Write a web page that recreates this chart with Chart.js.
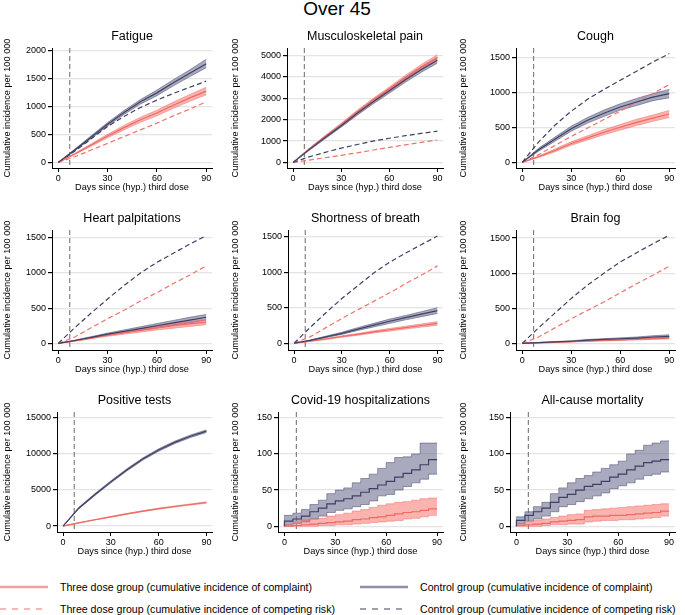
<!DOCTYPE html>
<html>
<head>
<meta charset="utf-8">
<script src="https://cdn.jsdelivr.net/npm/chart.js"></script>
<style>
  body { margin: 0; background: #fff; font-family: "Liberation Sans", Arial, sans-serif; }
  #page { position: relative; width: 685px; height: 615px; overflow: hidden; background: #fff; }
  #mainTitle { position: absolute; left: 0; top: -2px; width: 674px; text-align: center; font-size: 19px; line-height: 22px; color: #000; }
  .panel { position: absolute; }
  .leg { position: absolute; font-size: 10.6px; line-height: 14px; color: #000; white-space: nowrap; }
  .legLine { position: absolute; }
</style>
</head>
<body>
<div id="page">
  <div id="mainTitle">Over 45</div>
</div>
<script>
// --- data ---
const days = [0, 10, 20, 30, 40, 50, 60, 70, 80, 90];
const days5 = [0, 5, 10, 15, 20, 25, 30, 35, 40, 45, 50, 55, 60, 65, 70, 75, 80, 85, 90];
const refDay = 7;
const xTicks = [0, 30, 60, 90];

// Fatigue
const fatT   = [0, 150, 310, 470, 620, 760, 880, 1020, 1150, 1270];
const fatTlo = [0, 140, 290, 440, 580, 715, 830, 965, 1090, 1205];
const fatThi = [0, 160, 330, 500, 660, 805, 930, 1075, 1210, 1340];
const fatC   = [0, 220, 450, 680, 890, 1080, 1240, 1420, 1590, 1760];
const fatClo = [0, 205, 425, 650, 855, 1040, 1190, 1365, 1530, 1690];
const fatChi = [0, 235, 475, 710, 925, 1120, 1290, 1475, 1650, 1840];
const fatTc  = [0, 100, 220, 340, 460, 580, 700, 830, 950, 1080];
const fatCc  = [0, 200, 420, 640, 820, 980, 1110, 1230, 1340, 1450];
const fatTicks = [0, 500, 1000, 1500, 2000];

// Musculoskeletal pain
const musT   = [0, 620, 1200, 1760, 2350, 2900, 3420, 3950, 4450, 4900];
const musTlo = [0, 580, 1140, 1690, 2260, 2800, 3310, 3830, 4320, 4760];
const musThi = [0, 660, 1260, 1830, 2440, 3000, 3530, 4070, 4580, 5040];
const musC   = [0, 600, 1170, 1720, 2300, 2840, 3350, 3870, 4350, 4780];
const musClo = [0, 560, 1110, 1650, 2210, 2740, 3240, 3750, 4220, 4640];
const musChi = [0, 640, 1230, 1790, 2390, 2940, 3460, 3990, 4480, 4920];
const musTc  = [0, 110, 220, 330, 450, 580, 700, 820, 940, 1050];
const musCc  = [0, 260, 470, 670, 840, 1000, 1130, 1250, 1360, 1460];
const musTicks = [0, 1000, 2000, 3000, 4000, 5000];

// Cough
const couT   = [0, 80, 170, 270, 350, 430, 500, 570, 630, 690];
const couTlo = [0, 70, 150, 245, 320, 395, 460, 525, 585, 640];
const couThi = [0, 90, 190, 295, 380, 465, 540, 615, 675, 740];
const couC   = [0, 180, 330, 480, 600, 700, 790, 860, 930, 980];
const couClo = [0, 160, 300, 445, 560, 655, 745, 810, 880, 920];
const couChi = [0, 200, 360, 515, 640, 745, 835, 910, 980, 1040];
const couTc  = [0, 110, 240, 370, 490, 610, 730, 860, 980, 1110];
const couCc  = [0, 290, 530, 730, 900, 1040, 1170, 1300, 1430, 1550];
const couTicks = [0, 500, 1000, 1500];

// Heart palpitations
const hrtT   = [0, 35, 75, 115, 150, 185, 220, 250, 275, 300];
const hrtTlo = [0, 30, 65, 100, 130, 160, 190, 215, 240, 265];
const hrtThi = [0, 40, 85, 130, 170, 210, 250, 285, 310, 335];
const hrtC   = [0, 40, 85, 130, 170, 210, 250, 290, 330, 370];
const hrtClo = [0, 35, 75, 115, 150, 185, 220, 255, 290, 330];
const hrtChi = [0, 45, 95, 145, 190, 235, 280, 325, 370, 410];
const hrtTc  = [0, 90, 220, 350, 470, 600, 720, 850, 970, 1100];
const hrtCc  = [0, 220, 430, 630, 820, 1000, 1150, 1280, 1410, 1530];
const hrtTicks = [0, 500, 1000, 1500];

// Shortness of breath
const sobT   = [0, 30, 60, 95, 125, 160, 190, 220, 250, 280];
const sobTlo = [0, 25, 52, 85, 112, 145, 172, 200, 228, 255];
const sobThi = [0, 35, 68, 105, 138, 175, 208, 240, 272, 305];
const sobC   = [0, 40, 90, 140, 200, 255, 310, 360, 410, 460];
const sobClo = [0, 35, 80, 125, 180, 230, 280, 330, 375, 420];
const sobChi = [0, 45, 100, 155, 220, 280, 340, 390, 445, 500];
const sobTc  = [0, 90, 220, 350, 470, 590, 710, 840, 960, 1090];
const sobCc  = [0, 220, 430, 630, 810, 990, 1140, 1270, 1390, 1510];
const sobTicks = [0, 500, 1000, 1500];

// Brain fog
const bfT   = [0, 8, 15, 25, 33, 42, 50, 58, 67, 75];
const bfTlo = [0, 5, 11, 19, 26, 34, 41, 48, 56, 63];
const bfThi = [0, 11, 19, 31, 40, 50, 59, 68, 78, 88];
const bfC   = [0, 10, 20, 30, 45, 55, 65, 75, 90, 100];
const bfClo = [0, 7, 15, 23, 35, 44, 52, 60, 72, 80];
const bfChi = [0, 13, 25, 37, 55, 67, 78, 90, 108, 122];
const bfTc  = [0, 90, 220, 350, 470, 590, 720, 850, 970, 1100];
const bfCc  = [0, 220, 430, 640, 830, 1000, 1160, 1290, 1420, 1540];
const bfTicks = [0, 500, 1000, 1500];

// Positive tests
const posT   = [0, 450, 870, 1280, 1680, 2050, 2400, 2700, 2980, 3250];
const posTlo = [0, 420, 830, 1230, 1620, 1985, 2330, 2625, 2900, 3160];
const posThi = [0, 480, 910, 1330, 1740, 2115, 2470, 2775, 3060, 3340];
const posC   = [0, 2500, 4350, 6100, 7750, 9250, 10500, 11550, 12400, 13100];
const posClo = [0, 2400, 4220, 5960, 7600, 9100, 10340, 11380, 12230, 12920];
const posChi = [0, 2600, 4480, 6240, 7900, 9400, 10660, 11720, 12570, 13280];
const posTicks = [0, 5000, 10000, 15000];

// Covid-19 hospitalizations (5-day steps)
const hosT   = [0, 0, 1, 2, 3, 4, 5, 6, 7, 9, 10, 12, 13, 15, 17, 19, 20, 22, 24];
const hosTlo = [0, 0, 0, 0, 0, 1, 1, 2, 2, 3, 4, 5, 6, 7, 8, 10, 11, 13, 15];
const hosThi = [0, 2, 5, 9, 10, 11, 14, 16, 18, 21, 23, 26, 29, 31, 33, 34, 36, 38, 39];
const hosC   = [0, 7, 10, 14, 20, 25, 31, 35, 38, 42, 47, 52, 57, 62, 68, 73, 78, 85, 92];
const hosClo = [0, 2, 4, 6, 10, 14, 19, 22, 24, 27, 30, 35, 42, 44, 50, 55, 60, 65, 72];
const hosChi = [0, 15, 18, 23, 30, 36, 45, 50, 53, 60, 66, 72, 80, 88, 95, 96, 100, 115, 115];
const hosTicks = [0, 50, 100, 150];

// All-cause mortality (5-day steps)
const morT   = [0, 1, 2, 3, 4, 6, 7, 8, 9, 13, 14, 14, 15, 15, 16, 17, 18, 19, 21];
const morTlo = [0, 0, 0, 0, 1, 2, 2, 3, 3, 6, 7, 8, 8, 9, 9, 10, 11, 12, 14];
const morThi = [0, 4, 6, 8, 10, 12, 14, 16, 17, 22, 23, 24, 25, 26, 27, 28, 29, 30, 31];
const morC   = [0, 8, 15, 20, 25, 33, 40, 44, 50, 55, 58, 62, 68, 72, 78, 83, 88, 90, 92];
const morClo = [0, 3, 7, 10, 14, 20, 27, 30, 34, 38, 42, 46, 52, 56, 60, 65, 70, 72, 75];
const morChi = [0, 13, 20, 27, 33, 45, 53, 60, 66, 70, 75, 80, 85, 90, 100, 105, 112, 115, 118];
const morTicks = [0, 50, 100, 150];

// --- panel layout ---
const colLeft = [0, 228, 456];
const colWidth = [228, 228, 229];
const colPadR = [16, 13, 10];
const rowTop = [29, 211, 393];
const panelH = 165;
const yAxisW = [52, 59, 60, 52, 60, 60, 57, 50, 54];

const panels = [
  { title: 'Fatigue', x: days, t: [fatT, fatTlo, fatThi], c: [fatC, fatClo, fatChi], tc: fatTc, cc: fatCc, ticks: fatTicks, ymin: -100, ymax: 2040 },
  { title: 'Musculoskeletal pain', x: days, t: [musT, musTlo, musThi], c: [musC, musClo, musChi], tc: musTc, cc: musCc, ticks: musTicks, ymin: -260, ymax: 5350 },
  { title: 'Cough', x: days, t: [couT, couTlo, couThi], c: [couC, couClo, couChi], tc: couTc, cc: couCc, ticks: couTicks, ymin: -80, ymax: 1630 },
  { title: 'Heart palpitations', x: days, t: [hrtT, hrtTlo, hrtThi], c: [hrtC, hrtClo, hrtChi], tc: hrtTc, cc: hrtCc, ticks: hrtTicks, ymin: -95, ymax: 1610 },
  { title: 'Shortness of breath', x: days, t: [sobT, sobTlo, sobThi], c: [sobC, sobClo, sobChi], tc: sobTc, cc: sobCc, ticks: sobTicks, ymin: -95, ymax: 1595 },
  { title: 'Brain fog', x: days, t: [bfT, bfTlo, bfThi], c: [bfC, bfClo, bfChi], tc: bfTc, cc: bfCc, ticks: bfTicks, ymin: -95, ymax: 1615 },
  { title: 'Positive tests', x: days, t: [posT, posTlo, posThi], c: [posC, posClo, posChi], ticks: posTicks, ymin: -820, ymax: 15750 },
  { title: 'Covid-19 hospitalizations', x: days5, t: [hosT, hosTlo, hosThi], c: [hosC, hosClo, hosChi], ticks: hosTicks, ymin: -8, ymax: 158, stepped: true },
  { title: 'All-cause mortality', x: days5, t: [morT, morTlo, morThi], c: [morC, morClo, morChi], ticks: morTicks, ymin: -8, ymax: 158, stepped: true }
];

const FONT = '"Liberation Sans", Arial, sans-serif';
const PINK = '#ee6b64', PINK_BAND = 'rgba(247,103,97,0.5)', PINK_EDGE = 'rgba(240,110,105,0.75)';
const NAVY = '#3e4067', NAVY_BAND = 'rgba(99,100,135,0.55)', NAVY_EDGE = 'rgba(70,72,110,0.75)';

Chart.defaults.font.family = FONT;
Chart.defaults.color = '#000';

const refLine = {
  id: 'refLine',
  beforeDatasetsDraw(chart) {
    const { ctx, chartArea, scales } = chart;
    const px = scales.x.getPixelForValue(refDay);
    ctx.save();
    ctx.strokeStyle = '#6a6a6a';
    ctx.lineWidth = 1;
    ctx.setLineDash([5, 3]);
    ctx.beginPath();
    ctx.moveTo(px, chartArea.top);
    ctx.lineTo(px, chartArea.bottom);
    ctx.stroke();
    ctx.restore();
  }
};

function pts(xs, ys) { return xs.map((d, i) => ({ x: d, y: ys[i] })); }

const page = document.getElementById('page');

panels.forEach((p, i) => {
  const col = i % 3, row = Math.floor(i / 3);
  const div = document.createElement('div');
  div.className = 'panel';
  div.style.left = colLeft[col] + 'px';
  div.style.top = rowTop[row] + 'px';
  div.style.width = colWidth[col] + 'px';
  div.style.height = panelH + 'px';
  const cv = document.createElement('canvas');
  div.appendChild(cv);
  page.appendChild(div);

  const step = p.stepped ? 'after' : false;
  const ds = [];
  // estimate lines on top
  ds.push({ data: pts(p.x, p.c[0]), borderColor: NAVY, borderWidth: 1.2, order: 1, stepped: step });
  ds.push({ data: pts(p.x, p.t[0]), borderColor: PINK, borderWidth: 1.2, order: 1, stepped: step });
  // bands
  const baseC = ds.length;
  ds.push({ data: pts(p.x, p.c[1]), borderColor: NAVY_EDGE, borderWidth: 0.7, order: 6, stepped: step });
  ds.push({ data: pts(p.x, p.c[2]), borderColor: NAVY_EDGE, borderWidth: 0.7, order: 6, stepped: step, fill: { target: baseC }, backgroundColor: NAVY_BAND });
  const baseT = ds.length;
  ds.push({ data: pts(p.x, p.t[1]), borderColor: PINK_EDGE, borderWidth: 0.7, order: 5, stepped: step });
  ds.push({ data: pts(p.x, p.t[2]), borderColor: PINK_EDGE, borderWidth: 0.7, order: 5, stepped: step, fill: { target: baseT }, backgroundColor: PINK_BAND });
  // competing risk
  if (p.cc) ds.push({ data: pts(p.x, p.cc), borderColor: NAVY, borderWidth: 1.2, borderDash: [5, 3], order: 2 });
  if (p.tc) ds.push({ data: pts(p.x, p.tc), borderColor: '#f0726a', borderWidth: 1.2, borderDash: [5, 3], order: 2 });

  new Chart(cv, {
    type: 'line',
    data: { datasets: ds },
    plugins: [refLine],
    options: {
      responsive: true,
      maintainAspectRatio: false,
      animation: false,
      devicePixelRatio: 1,
      elements: { point: { radius: 0 }, line: { tension: 0, fill: false } },
      layout: { padding: { top: 0, left: 0, bottom: 0, right: colPadR[col] } },
      plugins: {
        legend: { display: false },
        tooltip: { enabled: false },
        title: {
          display: true, text: p.title, fullSize: false, color: '#000',
          font: { size: 12.5, weight: 'normal', family: FONT },
          padding: { top: 0, bottom: 4 }
        }
      },
      scales: {
        x: {
          type: 'linear', min: -3.8, max: 93.5,
          afterBuildTicks: s => { s.ticks = xTicks.map(v => ({ value: v })); },
          afterFit: s => { s.height = 26; },
          grid: { drawOnChartArea: false, tickLength: 4, tickColor: '#000' },
          border: { color: '#000', width: 1 },
          ticks: { color: '#000', font: { size: 9, family: FONT }, padding: 1, maxRotation: 0, autoSkip: false, callback: v => String(v) },
          title: { display: true, text: 'Days since (hyp.) third dose', color: '#000', font: { size: 9.2, family: FONT }, padding: { top: 0, bottom: 1 } }
        },
        y: {
          type: 'linear', min: p.ymin, max: p.ymax,
          afterBuildTicks: s => { s.ticks = p.ticks.map(v => ({ value: v })); },
          afterFit: s => { s.width = yAxisW[i]; },
          grid: { color: '#e4e4e4', lineWidth: 1.2, tickLength: 4, tickColor: '#000' },
          border: { color: '#000', width: 1 },
          ticks: { color: '#000', font: { size: 9, family: FONT }, padding: 2, autoSkip: false, callback: v => String(v) },
          title: { display: true, text: 'Cumulative incidence per 100 000', color: '#000', font: { size: 9.2, family: FONT }, padding: { top: 2, bottom: 0 } }
        }
      }
    }
  });
});

// --- legend (HTML) ---
const legendItems = [
  { text: 'Three dose group (cumulative incidence of complaint)', color: '#f4a19c', width: 2.6, dash: '', x: 0, y: 587 },
  { text: 'Control group (cumulative incidence of complaint)', color: '#8e90a8', width: 2.6, dash: '', x: 360, y: 587 },
  { text: 'Three dose group (cumulative incidence of competing risk)', color: '#f0726a', width: 1.1, dash: '6 6', x: 0, y: 609 },
  { text: 'Control group (cumulative incidence of competing risk)', color: NAVY, width: 1.1, dash: '6 6', x: 360, y: 609 }
];
legendItems.forEach(it => {
  const svgNS = 'http://www.w3.org/2000/svg';
  const svg = document.createElementNS(svgNS, 'svg');
  svg.setAttribute('class', 'legLine');
  svg.setAttribute('width', '48');
  svg.setAttribute('height', '6');
  svg.style.left = it.x + 'px';
  svg.style.top = (it.y - 3) + 'px';
  const ln = document.createElementNS(svgNS, 'line');
  ln.setAttribute('x1', '0'); ln.setAttribute('x2', '48');
  ln.setAttribute('y1', '3'); ln.setAttribute('y2', '3');
  ln.setAttribute('stroke', it.color);
  ln.setAttribute('stroke-width', it.width);
  if (it.dash) ln.setAttribute('stroke-dasharray', it.dash);
  svg.appendChild(ln);
  page.appendChild(svg);
  const t = document.createElement('div');
  t.className = 'leg';
  t.textContent = it.text;
  t.style.left = (it.x + 60) + 'px';
  t.style.top = (it.y - 7) + 'px';
  page.appendChild(t);
});
</script>
</body>
</html>
